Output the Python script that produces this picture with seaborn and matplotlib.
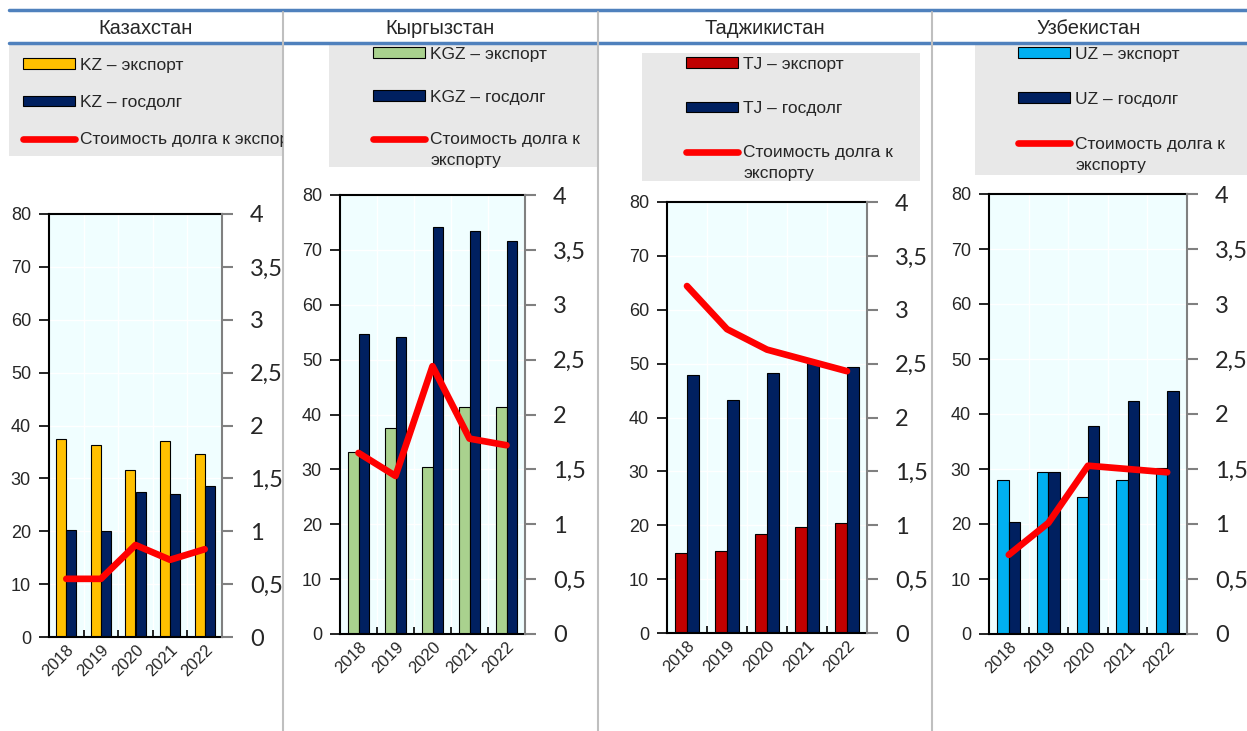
import numpy as np
import pandas as pd
import seaborn as sns
import matplotlib
matplotlib.use('Agg')
import matplotlib.pyplot as plt
from matplotlib.lines import Line2D
from matplotlib.patches import Rectangle
from matplotlib.transforms import Bbox, TransformedBbox
from matplotlib.legend_handler import HandlerLine2D
import matplotlib.ticker as mticker

# ---------------- data ----------------
years = ['2018', '2019', '2020', '2021', '2022']
titles = ['Казахстан', 'Кыргызстан', 'Таджикистан', 'Узбекистан']
codes = ['KZ', 'KGZ', 'TJ', 'UZ']

kz_export = [37.5, 36.3, 31.6, 37.1, 34.6]
kz_debt = [20.3, 20.0, 27.5, 27.1, 28.6]
kz_ratio = [0.55, 0.55, 0.87, 0.73, 0.83]

kgz_export = [33.1, 37.5, 30.4, 41.3, 41.4]
kgz_debt = [54.7, 54.1, 74.2, 73.4, 71.7]
kgz_ratio = [1.65, 1.44, 2.44, 1.78, 1.72]

tj_export = [14.8, 15.3, 18.4, 19.7, 20.4]
tj_debt = [47.9, 43.2, 48.2, 50.1, 49.3]
tj_ratio = [3.22, 2.82, 2.63, 2.53, 2.43]

uz_export = [28.0, 29.4, 24.9, 28.0, 30.1]
uz_debt = [20.4, 29.4, 37.8, 42.3, 44.2]
uz_ratio = [0.72, 1.01, 1.53, 1.50, 1.47]

exports = [kz_export, kgz_export, tj_export, uz_export]
debts = [kz_debt, kgz_debt, tj_debt, uz_debt]
ratios = [kz_ratio, kgz_ratio, tj_ratio, uz_ratio]

export_suffix = ' – экспорт'
debt_suffix = ' – госдолг'
ratio_labels = ['Стоимость долга к экспорту',
                'Стоимость долга к\nэкспорту',
                'Стоимость долга к\nэкспорту',
                'Стоимость долга к\nэкспорту']

left_ticks = [0, 10, 20, 30, 40, 50, 60, 70, 80]
right_ticks = [0, 0.5, 1, 1.5, 2, 2.5, 3, 3.5, 4]

# ---------------- styles ----------------
export_colors = ['#FFC000', '#A9D18E', '#C00000', '#00B0F0']
debt_color = '#002060'
line_color = '#FF0000'
plot_bg = '#F0FEFF'
legend_bg = '#E8E8E8'
rule_blue = '#4F81BD'
sep_gray = '#BFBFBF'

LEG_FS = 12.5
LINESP = 1.5
LINE_GAP_PX = 23

W, H = 1247, 731
sns.set_theme(style='white')
plt.rcParams['font.family'] = ['Liberation Sans', 'DejaVu Sans']

fig = plt.figure(figsize=(W / 100, H / 100), dpi=100)


def fx(x):
    return x / W


def fy(y):
    return 1 - y / H


class HandlerFirstLine(HandlerLine2D):
    """Place the line handle next to the first line of a two-line label."""

    def __init__(self, shift, **kw):
        super().__init__(**kw)
        self.shift = shift

    def create_artists(self, legend, orig_handle, xdescent, ydescent,
                       width, height, fontsize, trans):
        arts = super().create_artists(legend, orig_handle, xdescent, ydescent,
                                      width, height, fontsize, trans)
        for a in arts:
            if isinstance(a, Line2D):
                a.set_ydata(np.asarray(a.get_ydata()) + self.shift)
        return arts


# plot rectangles (left, top, right, bottom) in pixels
plot_rects = [(49, 214, 222, 637), (340, 195, 525, 634),
              (667, 202, 867, 633), (989, 194, 1187, 634)]
# legend boxes (x0, y0, x1, y1)
legend_boxes = [(9, 45, 283, 156), (329, 43, 598, 167),
                (642, 53, 920, 181), (975, 43, 1247, 175)]
legend_anchor = [(23, 58), (373, 47), (686, 57), (1018, 47)]
legend_spacing = [1.28, 1.59, 1.68, 1.72]
title_centers = [146, 440, 765, 1089]
col_clip = [(9, 283), (283, 598), (598, 932), (932, 1247)]

for (x0, y0, x1, y1) in legend_boxes:
    fig.add_artist(Rectangle((fx(x0), fy(y1)), fx(x1) - fx(x0), fy(y0) - fy(y1),
                             transform=fig.transFigure, facecolor=legend_bg,
                             edgecolor='none', zorder=0))

for i in range(4):
    (l, t, r, b) = plot_rects[i]
    ax = fig.add_axes([fx(l), fy(b), fx(r) - fx(l), fy(t) - fy(b)])
    ax.set_facecolor(plot_bg)
    code = codes[i]
    lab_e = code + export_suffix
    lab_d = code + debt_suffix
    df = pd.DataFrame({
        'year': years * 2,
        'series': [lab_e] * len(years) + [lab_d] * len(years),
        'value': list(exports[i]) + list(debts[i]),
    })
    sns.barplot(data=df, x='year', y='value', hue='series',
                hue_order=[lab_e, lab_d],
                palette={lab_e: export_colors[i], lab_d: debt_color},
                width=0.58, edgecolor='black', linewidth=0.8, saturation=1,
                ax=ax, legend=True, zorder=2)
    h1, l1 = ax.get_legend_handles_labels()
    if ax.get_legend() is not None:
        ax.get_legend().remove()
    ax.set_ylim(0, 80)
    ax.set_xlim(-0.5, len(years) - 0.5)
    ax.set_yticks(left_ticks)
    ax.set_xlabel('')
    ax.set_ylabel('')
    ax.set_xticks(range(len(years)))
    ax.set_xticklabels(years, rotation=45, ha='right', va='top',
                       rotation_mode='anchor', fontsize=12)
    ax.xaxis.set_minor_locator(mticker.FixedLocator(np.arange(0.5, len(years) - 0.5, 1)))
    ax.tick_params(axis='x', which='major', length=0, pad=4)
    ax.tick_params(axis='x', which='minor', direction='in', length=5,
                   width=1.2, color='black', bottom=True)
    ax.tick_params(axis='y', which='major', length=7, width=1.2, color='black',
                   pad=6, labelsize=13, left=True)
    ax.grid(axis='y', color='white', lw=1, zorder=0)
    ax.grid(axis='x', which='minor', color='white', lw=1, zorder=0)
    for s in ['left', 'bottom', 'top']:
        ax.spines[s].set_color('black')
        ax.spines[s].set_linewidth(1.5)
    ax.spines['right'].set_visible(False)
    ax.set_axisbelow(True)

    ax2 = ax.twinx()
    sns.lineplot(x=np.arange(len(years)), y=ratios[i], ax=ax2, color=line_color,
                 lw=4.8, solid_capstyle='round', label=ratio_labels[i])
    h2, l2 = ax2.get_legend_handles_labels()
    if ax2.get_legend() is not None:
        ax2.get_legend().remove()
    ax2.set_ylim(0, 4)
    ax2.set_yticks(right_ticks)
    ax2.yaxis.set_major_formatter(
        mticker.FuncFormatter(lambda v, p: ('%g' % v).replace('.', ',')))
    ax2.set_ylabel('')
    ax2.tick_params(axis='y', which='major', length=8, width=1.5, color='#808080',
                    pad=12, labelsize=17, right=True)
    for lab in ax2.get_yticklabels():
        lab.set_fontfamily(['Lato', 'DejaVu Sans'])
    for s in ['left', 'bottom', 'top']:
        ax2.spines[s].set_visible(False)
    ax2.spines['right'].set_color('#808080')
    ax2.spines['right'].set_linewidth(1.5)
    ax2.set_xlim(-0.5, len(years) - 0.5)

    two_line = '\n' in ratio_labels[i]
    shift = 0.5 * LINE_GAP_PX * 72 / 100 if two_line else 0.0
    ax_x, ax_y = legend_anchor[i]
    leg = fig.legend(h1 + h2, l1 + l2, loc='upper left',
                     bbox_to_anchor=(fx(ax_x), fy(ax_y)),
                     bbox_transform=fig.transFigure, frameon=False,
                     fontsize=LEG_FS, handlelength=3.0, handleheight=0.58,
                     handletextpad=0.3, labelspacing=legend_spacing[i],
                     borderpad=0, borderaxespad=0,
                     handler_map={h2[0]: HandlerFirstLine(shift)})
    cx0, cx1 = col_clip[i]
    clip = TransformedBbox(Bbox.from_extents(fx(cx0), 0, fx(cx1), 1), fig.transFigure)
    for t in leg.get_texts():
        t.set_linespacing(LINESP)
        t.set_clip_box(clip)
        t.set_clip_on(True)

    fig.text(fx(title_centers[i]), fy(28), titles[i], ha='center', va='center',
             fontsize=14.5)

for yy in [10, 43]:
    fig.add_artist(Line2D([fx(9), 1], [fy(yy), fy(yy)], transform=fig.transFigure,
                          color=rule_blue, lw=2.5, zorder=5))
for xx in [283, 598, 932]:
    fig.add_artist(Line2D([fx(xx), fx(xx)], [fy(12), 0], transform=fig.transFigure,
                          color=sep_gray, lw=1.5, zorder=5))

fig.savefig('out.png', dpi=100)
